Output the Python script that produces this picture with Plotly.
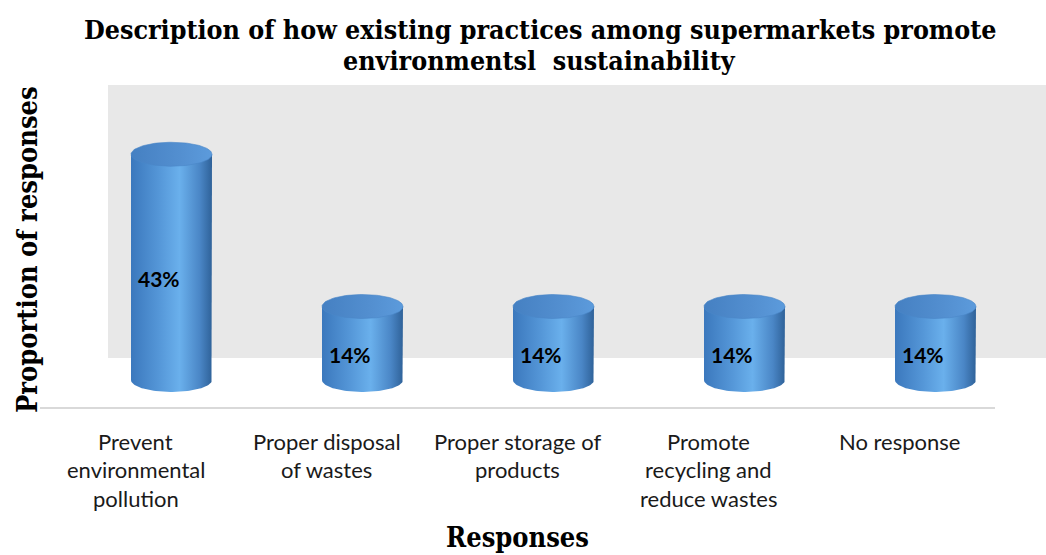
import numpy as np
import plotly.graph_objects as go

# Survey results
categories = [
    "Prevent<br>environmental<br>pollution",
    "Proper disposal<br>of wastes",
    "Proper storage of<br>products",
    "Promote<br>recycling and<br>reduce wastes",
    "No response",
]
values = [43, 14, 14, 14, 14]
value_labels = ["43%", "14%", "14%", "14%", "14%"]

title_lines = ["Description of how existing practices among supermarkets promote",
               "environmentsl\u00a0\u00a0sustainability"]
x_title = "Responses"
y_title = "Proportion of responses"

# Canvas / pseudo-3D geometry
W, H = 1046, 555
CAT_PX = 191.0          # pixels per category
CAT0_PX = 135.5         # pixel centre of the first category (front plane)
BASE_PX = 380.0         # pixel row of the cylinder bases
UNIT_PX = 5.25          # pixels per percentage point
DEPTH_DX = 36.0 / CAT_PX  # cylinders sit half-way back in the box
RX = 40.5 / CAT_PX      # cylinder radius (x units)
RY = 12.0 / UNIT_PX     # ellipse half-height (y units)

body_scale = [[0.0, "#3b78bd"], [0.35, "#5597d8"], [0.6, "#6ab0ec"],
              [0.85, "#4a86c6"], [1.0, "#2f6299"]]
top_scale = [[0.0, "#4580c2"], [0.6, "#538fd0"], [1.0, "#5c9bdc"]]

fig = go.Figure()

t_bottom = np.linspace(0, -np.pi, 60)
t_full = np.linspace(0, 2 * np.pi, 120)

for i, v in enumerate(values):
    xc = i + DEPTH_DX
    xl, xr = xc - RX, xc + RX
    # body: sides plus the lower half of the base ellipse
    bx = np.concatenate([[xl, xl, xr, xr], xc + RX * np.cos(t_bottom)])
    by = np.concatenate([[0, v, v, 0], RY * np.sin(t_bottom)])
    fig.add_trace(go.Scatter(
        x=bx, y=by, mode="lines", fill="toself", line=dict(width=0),
        fillgradient=dict(type="horizontal", colorscale=body_scale),
        hoverinfo="skip", showlegend=False))
    # top cap
    fig.add_trace(go.Scatter(
        x=xc + RX * np.cos(t_full), y=v + RY * np.sin(t_full),
        mode="lines", fill="toself", line=dict(width=0.6, color="#4a86c8"),
        fillgradient=dict(type="horizontal", colorscale=top_scale),
        hoverinfo="skip", showlegend=False))
    fig.add_annotation(
        x=xc, y=v / 2, xref="x", yref="y", text=value_labels[i],
        showarrow=False, xshift=-13, yshift=-11,
        xanchor="center", yanchor="middle",
        font=dict(family="Lato", size=21, color="#000000", weight="bold"))

# category labels along the front edge, one annotation per text line
LABEL_TOP_PX, LABEL_STEP_PX = 441.0, 28.5
for i, c in enumerate(categories):
    for k, line in enumerate(c.split("<br>")):
        fig.add_annotation(
            x=i, y=1 - (LABEL_TOP_PX + k * LABEL_STEP_PX) / H,
            xref="x", yref="paper", xanchor="center", yanchor="middle",
            text=line, showarrow=False,
            font=dict(family="Lato", size=22, color="#1a1a1a"))

serif = "DejaVu Serif Condensed, Liberation Serif, serif"
for k, line in enumerate(title_lines):
    fig.add_annotation(
        x=539.5 / W, y=1 - (29 + k * 31) / H, xref="paper", yref="paper",
        xanchor="center", yanchor="middle",
        text=line, showarrow=False,
        font=dict(family=serif, size=26.6, color="#000000", weight="bold"))
fig.add_annotation(
    x=517 / W, y=1 - 537 / H, xref="paper", yref="paper",
    xanchor="center", yanchor="middle",
    text=x_title, showarrow=False,
    font=dict(family=serif, size=27, color="#000000", weight="bold"))
fig.add_annotation(
    x=27 / W, y=1 - 250 / H, xref="paper", yref="paper",
    xanchor="center", yanchor="middle",
    text=y_title, showarrow=False, textangle=-90,
    font=dict(family=serif, size=27, color="#000000", weight="bold"))

# back wall and floor edge
fig.add_shape(type="rect", xref="paper", yref="paper", layer="below",
              x0=108 / W, x1=1, y0=1 - 358 / H, y1=1 - 85 / H,
              fillcolor="#e8e8e8", line=dict(width=0))
fig.add_shape(type="line", xref="paper", yref="paper", layer="below",
              x0=40 / W, x1=995 / W, y0=1 - 408 / H, y1=1 - 408 / H,
              line=dict(color="#d9d9d9", width=2))

fig.update_layout(
    width=W, height=H, margin=dict(l=0, r=0, t=0, b=0),
    paper_bgcolor="#ffffff", plot_bgcolor="rgba(0,0,0,0)",
    xaxis=dict(range=[-CAT0_PX / CAT_PX, (W - CAT0_PX) / CAT_PX],
               visible=False, fixedrange=True),
    yaxis=dict(range=[-(H - BASE_PX) / UNIT_PX, BASE_PX / UNIT_PX],
               visible=False, fixedrange=True),
    showlegend=False,
)

fig.write_html("out.html")
